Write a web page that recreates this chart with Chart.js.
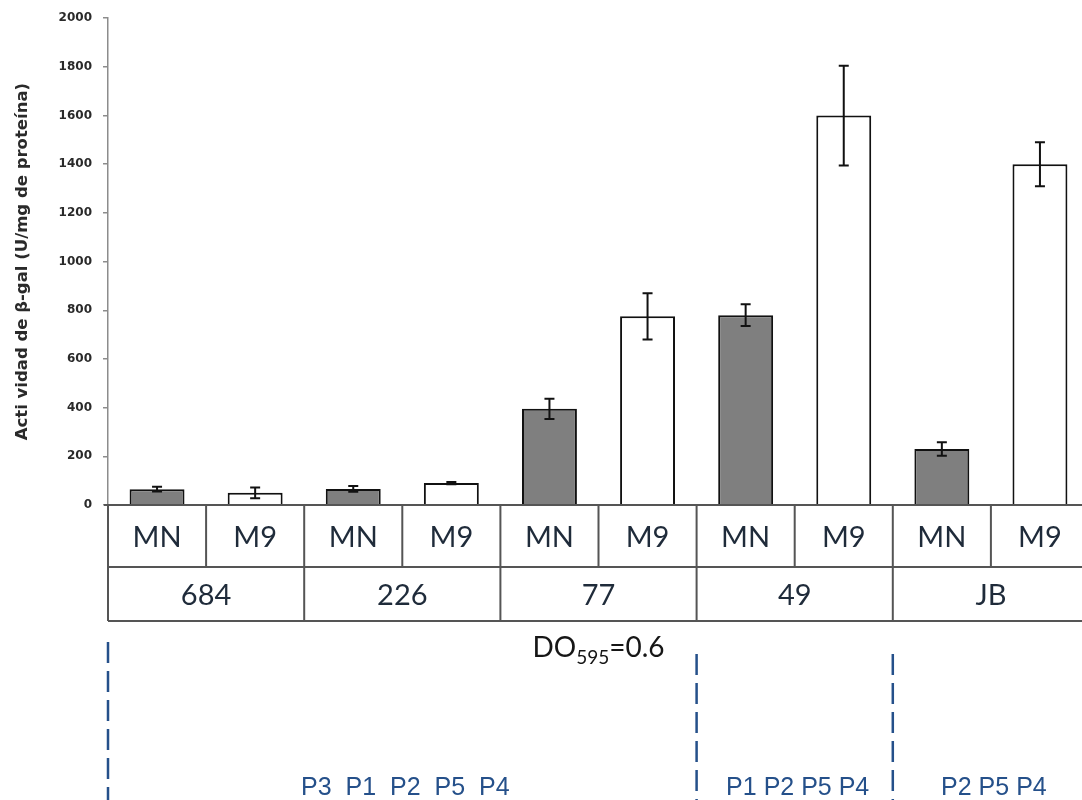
<!DOCTYPE html>
<html>
<head>
<meta charset="utf-8">
<script src="https://cdn.jsdelivr.net/npm/chart.js@4.4.1/dist/chart.umd.min.js"></script>
<style>
  html, body { margin: 0; padding: 0; background: #fff; overflow: hidden; }
  #chart { display: block; }
</style>
</head>
<body>
<canvas id="chart" width="1090" height="800"></canvas>
<script>
// medio de cultivo por barra
const categories = ['MN', 'M9', 'MN', 'M9', 'MN', 'M9', 'MN', 'M9', 'MN', 'M9'];
// cepas (dos barras cada una)
const strains = ['684', '226', '77', '49', 'JB'];
// actividad beta-gal (U/mg de proteina) y su error
const activity = [65, 50, 66, 90, 395, 775, 780, 1600, 230, 1400];
const errors = [10, 22, 12, 5, 42, 95, 45, 205, 28, 90];
const yTicks = [0, 200, 400, 600, 800, 1000, 1200, 1400, 1600, 1800, 2000];
// grupos de promotores: primera y ultima barra de cada grupo
const promoterText = ['P3  P1  P2  P5  P4', 'P1 P2 P5 P4', 'P2 P5 P4'];
const promoterFrom = [0, 6, 8];
const promoterTo = [5, 7, 9];

const gray = '#7f7f7f';
const lineGray = '#555555';
const navy = '#1f2b3a';
const blue = '#25508a';

const errorBars = {
    id: 'errorBars',
    afterDatasetsDraw: function (chart) {
        const ctx = chart.ctx;
        const y = chart.scales.y;
        const meta = chart.getDatasetMeta(0);
        ctx.save();
        ctx.strokeStyle = '#111';
        ctx.lineWidth = 2;
        meta.data.forEach(function (bar, i) {
            const top = y.getPixelForValue(activity[i] + errors[i]);
            const bot = y.getPixelForValue(activity[i] - errors[i]);
            ctx.beginPath();
            ctx.moveTo(bar.x, top);
            ctx.lineTo(bar.x, bot);
            ctx.moveTo(bar.x - 5, top);
            ctx.lineTo(bar.x + 5, top);
            ctx.moveTo(bar.x - 5, bot);
            ctx.lineTo(bar.x + 5, bot);
            ctx.stroke();
        });
        ctx.restore();
    }
};

const bottomTable = {
    id: 'bottomTable',
    afterDraw: function (chart) {
        const ctx = chart.ctx;
        const x = chart.scales.x;
        const area = chart.chartArea;
        const half = (x.getPixelForValue(1) - x.getPixelForValue(0)) / 2;
        const left = function (i) { return x.getPixelForValue(i) - half; };
        const right = function (i) { return x.getPixelForValue(i) + half; };
        const row0 = area.bottom, row1 = 567, row2 = 621;
        const tableLeft = left(0), tableRight = right(categories.length - 1);

        ctx.save();
        ctx.strokeStyle = lineGray;
        ctx.lineWidth = 2;
        ctx.beginPath();
        ctx.moveTo(tableLeft - 4, row0); ctx.lineTo(tableRight, row0);
        ctx.moveTo(tableLeft, row1); ctx.lineTo(tableRight, row1);
        ctx.moveTo(tableLeft, row2); ctx.lineTo(tableRight, row2);
        for (let i = 0; i <= categories.length; i++) {
            const px = i < categories.length ? left(i) : tableRight;
            ctx.moveTo(px, row0);
            ctx.lineTo(px, i % 2 === 0 ? row2 : row1);
        }
        ctx.stroke();

        ctx.fillStyle = navy;
        ctx.font = '29px Lato';
        ctx.textAlign = 'center';
        ctx.textBaseline = 'alphabetic';
        categories.forEach(function (c, i) {
            ctx.fillText(c, x.getPixelForValue(i), 547);
        });
        strains.forEach(function (s, g) {
            ctx.fillText(s, (left(2 * g) + right(2 * g + 1)) / 2, 605);
        });

        // DO595=0.6
        const mid = (tableLeft + tableRight) / 2;
        ctx.fillStyle = '#161616';
        ctx.textAlign = 'left';
        ctx.font = '28px Lato';
        const w1 = ctx.measureText('DO').width;
        const w3 = ctx.measureText('=0.6').width;
        ctx.font = '19px Lato';
        const w2 = ctx.measureText('595').width;
        let cx = mid - (w1 + w2 + w3) / 2;
        ctx.font = '28px Lato';
        ctx.fillText('DO', cx, 657);
        cx += w1;
        ctx.font = '19px Lato';
        ctx.fillText('595', cx, 664);
        cx += w2;
        ctx.font = '28px Lato';
        ctx.fillText('=0.6', cx, 657);

        // lineas discontinuas y promotores
        ctx.strokeStyle = blue;
        ctx.lineWidth = 2.5;
        ctx.setLineDash([21, 8]);
        promoterFrom.forEach(function (f, k) {
            const px = left(f);
            ctx.beginPath();
            ctx.moveTo(px, k === 0 ? 642 : 654);
            ctx.lineTo(px, 800);
            ctx.stroke();
        });
        ctx.setLineDash([]);
        ctx.fillStyle = blue;
        ctx.font = '25px "Liberation Sans"';
        ctx.textAlign = 'center';
        promoterText.forEach(function (t, k) {
            const cxp = (left(promoterFrom[k]) + right(promoterTo[k])) / 2;
            ctx.fillText(t, cxp + 3, 795);
        });
        ctx.restore();
    }
};

new Chart(document.getElementById('chart').getContext('2d'), {
    type: 'bar',
    data: {
        labels: categories,
        datasets: [{
            data: activity,
            backgroundColor: activity.map(function (v, i) { return i % 2 === 0 ? gray : '#ffffff'; }),
            borderColor: '#111',
            borderWidth: 2,
            barPercentage: 0.56,
            categoryPercentage: 1.0
        }]
    },
    options: {
        responsive: false,
        animation: false,
        devicePixelRatio: 1,
        layout: { padding: { top: 17, left: 0, right: 1, bottom: 295 } },
        plugins: { legend: { display: false }, tooltip: { enabled: false } },
        scales: {
            x: { display: false },
            y: {
                min: 0,
                max: 2000,
                afterBuildTicks: function (axis) {
                    axis.ticks = yTicks.map(function (v) { return { value: v }; });
                },
                afterFit: function (axis) { axis.width = 108; },
                border: { color: '#8c8c8c', width: 1.5 },
                grid: { drawOnChartArea: false, color: '#8c8c8c', tickLength: 5, lineWidth: 1.5 },
                ticks: {
                    padding: 11,
                    color: '#2a2a2a',
                    font: { family: 'DejaVu Sans', size: 12, weight: 'bold' },
                    callback: function (v) { return String(v); }
                },
                title: {
                    display: true,
                    text: 'Acti vidad de β-gal (U/mg de proteína)',
                    color: '#2a2a2a',
                    font: { family: 'DejaVu Sans', size: 16.5, weight: 'bold' },
                    padding: { top: 13, bottom: 0 }
                }
            }
        }
    },
    plugins: [errorBars, bottomTable]
});
</script>
</body>
</html>
